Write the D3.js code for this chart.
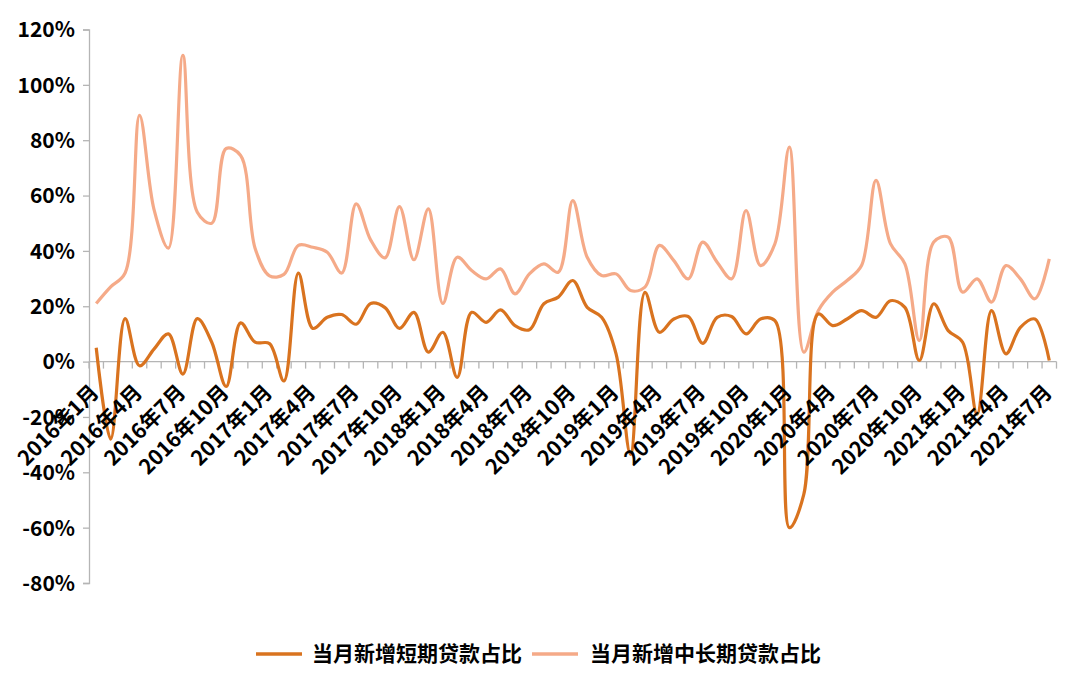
<!DOCTYPE html>
<html><head><meta charset="utf-8">
<script src="https://cdn.jsdelivr.net/npm/d3@7"></script>
<style>
html,body{margin:0;padding:0;background:#fff;}
text{font-family:"Noto Sans CJK SC","DejaVu Sans",sans-serif;font-weight:bold;fill:#000;}
</style></head>
<body>
<svg id="chart" width="1080" height="674"></svg>
<script>
const years = [2016, 2017, 2018, 2019, 2020, 2021];
const months = [];
years.forEach(yr => { for (let m = 1; m <= 12; m++) { if (yr === 2021 && m > 7) break; months.push(yr + "年" + m + "月"); } });

const shortShare = [5, -28, 15.5, -1.5, 4.5, 10, -4.5, 15.5, 7, -9, 14, 7,
  6.5, -7, 32, 12, 16, 17, 13.5, 21, 19.5, 12, 17.8, 3.4,
  10.6, -5.7, 17.8, 14.2, 18.7, 13, 11.5, 20.9, 23.3, 29.3, 19.6, 16,
  2.8, -33.5, 25, 10.6, 15.4, 16.3, 6.6, 16, 16.3, 10, 15.4, 14.8,
  -60, -48, 17.2, 13, 15.4, 18.4, 16, 22, 19.6, 0.4, 20.9, 11.2,
  7, -19, 18.4, 2.8, 12.4, 15.4, 0.4];
const longShare = [21, 27, 32, 89, 55, 41, 110.7, 54, 50, 77, 74.5, 41,
  31, 31.5, 42, 41.3, 39.5, 32, 57, 44, 37.5, 56, 36.8, 55.2,
  21, 37.7, 32.9, 29.9, 33.5, 24.5, 31.7, 35.3, 32.3, 58.2, 37.7, 31.1,
  31.7, 25.7, 26.9, 42, 36.5, 29.9, 43.2, 35.9, 29.9, 54.6, 34.7, 42.6,
  77.5, 3.4, 18.4, 25.1, 29.3, 34.7, 65.5, 42.6, 35.3, 7.6, 43.2, 45,
  25.1, 29.9, 21.5, 34.7, 29.9, 22.7, 37.1];
const yTicks = [-80, -60, -40, -20, 0, 20, 40, 60, 80, 100, 120];
const seriesNames = ["当月新增短期贷款占比", "当月新增中长期贷款占比"];
const seriesColors = ["#D9731F", "#F5AA88"];

const svg = d3.select("#chart");
const plotLeft = 89, plotRight = 1056.5, plotTop = 29.5, plotBottom = 583;
const x = d3.scaleBand().domain(months).range([plotLeft, plotRight]).padding(0);
const y = d3.scaleLinear().domain([-80, 120]).range([plotBottom, plotTop]);
const axisColor = "#B5B5B5";

// y axis
const yAxis = d3.axisLeft(y).tickValues(yTicks).tickSize(6).tickPadding(8).tickFormat(d => d + "%");
const gy = svg.append("g").attr("transform", `translate(${plotLeft},0)`).call(yAxis);
gy.select(".domain").attr("stroke", axisColor).attr("stroke-width", 1.3);
gy.selectAll(".tick line").attr("stroke", axisColor).attr("stroke-width", 1.3);
gy.selectAll(".tick text").style("font-size", "21px").attr("fill", "#000").attr("dy", "0.35em");

// x axis at zero line
const y0 = y(0);
svg.append("line").attr("x1", plotLeft).attr("x2", plotRight).attr("y1", y0).attr("y2", y0)
  .attr("stroke", axisColor).attr("stroke-width", 1.3);
const boundaries = months.map(m => x(m)).concat([plotRight]);
svg.append("g").selectAll("line").data(boundaries).join("line")
  .attr("x1", d => d).attr("x2", d => d).attr("y1", y0).attr("y2", y0 + 7)
  .attr("stroke", axisColor).attr("stroke-width", 1.3);

// lines
const line = d3.line()
  .x((d, i) => x(months[i]) + x.bandwidth() / 2)
  .y(d => y(d))
  .curve(d3.curveCatmullRom.alpha(0.5));
svg.append("path").datum(longShare).attr("d", line).attr("fill", "none")
  .attr("stroke", seriesColors[1]).attr("stroke-width", 3.2).attr("stroke-linejoin", "round");
svg.append("path").datum(shortShare).attr("d", line).attr("fill", "none")
  .attr("stroke", seriesColors[0]).attr("stroke-width", 3.2).attr("stroke-linejoin", "round");

// x labels (drawn over lines, as in the reference)
svg.append("g").selectAll("text").data(months.filter((m, i) => i % 3 === 0)).join("text")
  .attr("transform", d => `translate(${x(d) + x.bandwidth() / 2 + 4},${y0 + 32}) rotate(-45)`)
  .attr("text-anchor", "end")
  .style("font-size", "21px")
  .text(d => d);

// legend
const legendY = 654;
const legendItems = [{ lx: 256, tx: 312 }, { lx: 532, tx: 590 }];
legendItems.forEach((it, i) => {
  svg.append("line").attr("x1", it.lx).attr("x2", it.lx + 46).attr("y1", legendY).attr("y2", legendY)
    .attr("stroke", seriesColors[i]).attr("stroke-width", 3.5);
  svg.append("text").attr("x", it.tx).attr("y", legendY + 7).style("font-size", "21px").text(seriesNames[i]);
});
</script>
</body></html>
